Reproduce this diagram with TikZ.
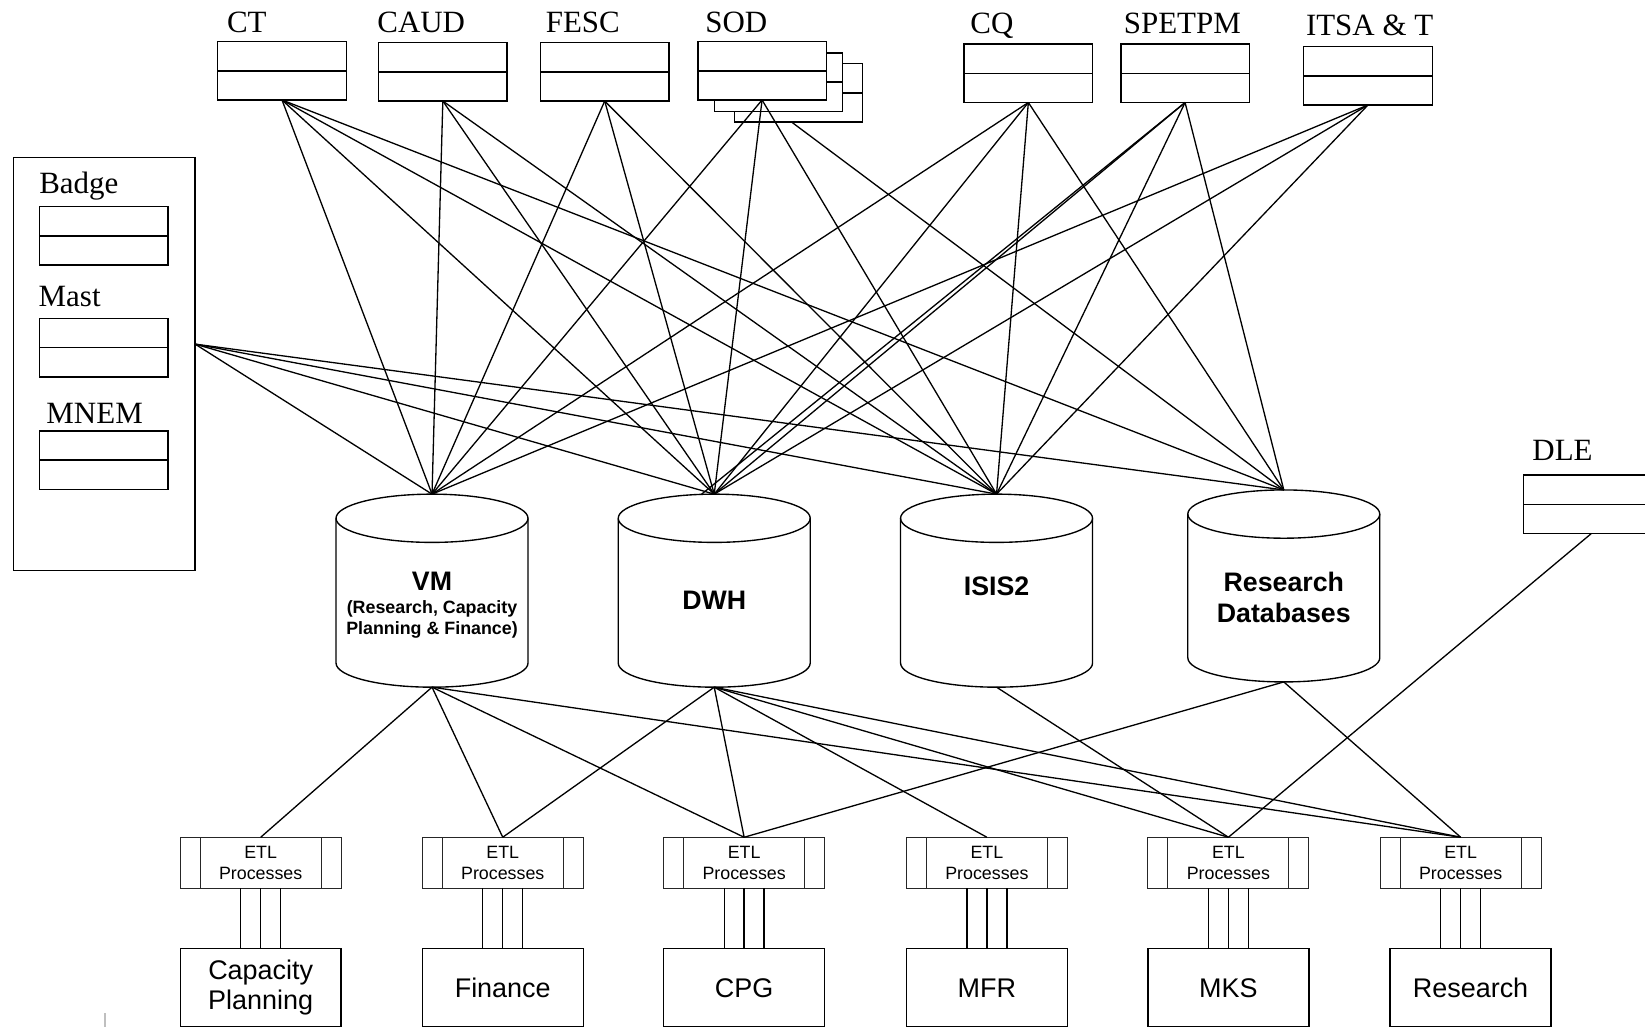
\documentclass[tikz,border=0pt]{standalone}
\usepackage{fontspec}
\setmainfont{Liberation Serif}
\setsansfont{Liberation Sans}
\usetikzlibrary{calc}

% a two-row table symbol
\newcommand\tablebox[3]{%
  \node[tbl] (#1) at (#2,#3) {};
  \draw[outline] (#1.west) -- (#1.east);}
% database drum drawn round an invisible node
\newcommand\dbdrum[1]{%
  \draw[outline] ([yshift=-23pt]#1.north west) -- ([yshift=23pt]#1.south west)
    arc[start angle=180,end angle=360,x radius=91.5pt,y radius=23pt]
    -- ([yshift=-23pt]#1.north east);
  \draw[outline] ([yshift=-23pt]#1.north) ellipse[x radius=91.5pt,y radius=23pt];}
% side bars of a process box
\newcommand\etlbars[1]{%
  \draw[etlrule] ([xshift=19pt]#1.north west) -- ([xshift=19pt]#1.south west);
  \draw[etlrule] ([xshift=-19pt]#1.north east) -- ([xshift=-19pt]#1.south east);}
% triple link from a process box down to its application
\newcommand\feed[2]{%
  \foreach \dx in {-19,0,19}{
    \draw[outline] ([xshift=\dx pt]#1.south) -- ([xshift=\dx pt]#1.south |- #2.north);}}

\begin{document}
\begin{tikzpicture}[x=1pt,y=-1pt,
  outline/.style={line width=1.3pt,black},
  wire/.style={line width=1.25pt,black},
  tbl/.style={draw,line width=1.3pt,fill=white,minimum width=122.5pt,minimum height=55.6pt,inner sep=0pt,outer sep=0pt},
  ttl/.style={font=\fontsize{29.5}{32}\selectfont,inner sep=0pt,anchor=base},
  drum/.style={minimum width=183pt,minimum height=184pt,inner sep=0pt,outer sep=0pt},
  dbtext/.style={font=\sffamily\bfseries\fontsize{25.5}{30}\selectfont,align=center,inner sep=0pt},
  dbsub/.style={font=\sffamily\bfseries\fontsize{17}{20}\selectfont,align=center,inner sep=0pt},
  etl/.style={draw=black!85,line width=0.9pt,fill=white,minimum width=153.4pt,minimum height=48.7pt,
    inner sep=0pt,outer sep=0pt,align=center,font=\sffamily\fontsize{17}{20}\selectfont},
  etlrule/.style={draw=black!85,line width=0.9pt},
  app/.style={draw,line width=1.3pt,minimum width=153.4pt,minimum height=75pt,inner sep=0pt,outer sep=0pt,
    align=center,font=\sffamily\fontsize{25.7}{29}\selectfont},
  panelbox/.style={draw,line width=1.3pt,minimum width=173pt,minimum height=394pt,inner sep=0pt,outer sep=0pt}]

\useasboundingbox (0,0) rectangle (1568,978);
\clip (0,0) rectangle (1568,978);
\fill[white] (0,0) rectangle (1568,978);

% ---------- databases ----------
\node[drum] (vm)   at (411.8,563) {};
\node[drum] (dwh)  at (680.8,563) {};
\node[drum] (isis) at (949.9,563) {};
\node[drum,minimum height=183pt] (rdb) at (1223.7,558.5) {};
\dbdrum{vm}\dbdrum{dwh}\dbdrum{isis}\dbdrum{rdb}
\node[dbtext] (vmname)   at (411.8,554.5) {VM};
\node[dbsub]  (vmscope)  at (411.8,590.5) {(Research, Capacity\\Planning \& Finance)};
\node[dbtext] (dwhname)  at (680.8,572.6) {DWH};
\node[dbtext] (isisname) at (949.9,559.2) {ISIS2};
\node[dbtext] (rdbname)  at (1223.7,569.5) {Research\\Databases};

% ---------- stacked SOD tables ----------
\coordinate (sodhub) at (726.4,95.3);
\draw[wire] (sodhub) -- (rdb.north);
\tablebox{sodback2}{761.1}{88.6}
\tablebox{sodback1}{742.0}{78.3}
\tablebox{sod}{726.4}{67.5}

% ---------- source tables ----------
\tablebox{ct}{268.8}{67.5}
\tablebox{caud}{422.1}{68.5}
\tablebox{fesc}{576.4}{68.5}
\tablebox{cq}{980.2}{69.9}
\tablebox{spetpm}{1129.6}{69.9}
\tablebox{itsa}{1303.9}{72.3}
\node[tbl,minimum width=130pt] (dle) at (1517,480.6) {};
\draw[outline] (dle.west) -- (dle.east);

\node[panelbox] (panel) at (99.5,347) {};
\tablebox{badge}{98.9}{224.8}
\tablebox{mast}{98.9}{331.5}
\tablebox{mnem}{98.9}{438.5}
\coordinate (panelhub) at (186,328);

\node[ttl] (ctname)     at (235.3,30.8) {CT};
\node[ttl] (caudname)   at (401.5,30.8) {CAUD};
\node[ttl] (fescname)   at (555.5,30.8) {FESC};
\node[ttl] (sodname)    at (701.8,30.8) {SOD};
\node[ttl] (cqname)     at (945.5,31.8) {CQ};
\node[ttl] (spetpmname) at (1127,31.8) {SPETPM};
\node[ttl] (itsaname)   at (1305.5,34) {ITSA \& T};
\node[ttl] (badgename)  at (75.1,184) {Badge};
\node[ttl] (mastname)   at (66.4,292) {Mast};
\node[ttl] (mnemname)   at (90.2,403.5) {MNEM};
\node[ttl] (dlename)    at (1489.4,438.5) {DLE};

% ---------- feeds into the databases ----------
\foreach \s/\t in {ct/vm,ct/dwh,ct/isis,ct/rdb,
                   caud/vm,caud/dwh,caud/isis,
                   fesc/vm,fesc/dwh,fesc/isis,
                   sod/vm,sod/dwh,sod/isis,
                   cq/vm,cq/dwh,cq/isis,cq/rdb,
                   spetpm/dwh,spetpm/isis,spetpm/rdb,
                   itsa/vm,itsa/dwh,itsa/isis}{
  \draw[wire] (\s.south) -- (\t.north);}
\draw[wire] (spetpm.south) -- ([xshift=-12pt]dwh.north);
\foreach \t in {vm,dwh,isis,rdb}{
  \draw[wire] (panelhub) -- (\t.north);}

% ---------- ETL stages ----------
\node[etl] (e1) at (248.5,822.4)  {ETL\\Processes};
\node[etl] (e2) at (479.2,822.4)  {ETL\\Processes};
\node[etl] (e3) at (709.3,822.4)  {ETL\\Processes};
\node[etl] (e4) at (940.7,822.4)  {ETL\\Processes};
\node[etl] (e5) at (1170.9,822.4) {ETL\\Processes};
\node[etl] (e6) at (1392.3,822.4) {ETL\\Processes};
\etlbars{e1}\etlbars{e2}\etlbars{e3}\etlbars{e4}\etlbars{e5}\etlbars{e6}

% ---------- applications ----------
\node[app] (cap) at (248.5,941.5)  {Capacity\\Planning};
\node[app] (fin) at (479.2,941.5)  {Finance};
\node[app] (cpg) at (709.3,941.5)  {CPG};
\node[app] (mfr) at (940.7,941.5)  {MFR};
\node[app] (mks) at (1170.9,941.5) {MKS};
\node[app] (res) at (1401.7,941.5) {Research};
\feed{e1}{cap}\feed{e2}{fin}\feed{e3}{cpg}\feed{e4}{mfr}\feed{e5}{mks}\feed{e6}{res}

% ---------- database to ETL links ----------
\foreach \s/\t in {vm/e1,vm/e2,vm/e3,vm/e6,
                   dwh/e2,dwh/e3,dwh/e4,dwh/e5,dwh/e6,
                   isis/e5,rdb/e3,rdb/e6}{
  \draw[wire] (\s.south) -- (\t.north);}
\draw[wire] (dle.south) -- (e5.north);

% small scanner mark near the lower left corner
\draw[black!25,line width=2pt] (100,966) -- (100,980);
\end{tikzpicture}
\end{document}
